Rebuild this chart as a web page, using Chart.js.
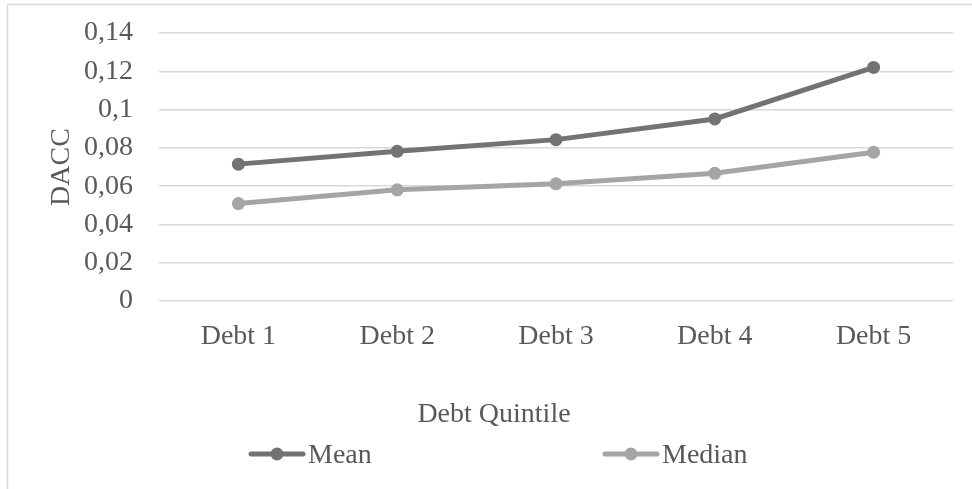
<!DOCTYPE html>
<html>
<head>
<meta charset="utf-8">
<script src="https://cdn.jsdelivr.net/npm/chart.js@4.4.1/dist/chart.umd.min.js"></script>
<style>
  html, body { margin: 0; padding: 0; background: #fff; }
  #wrap { width: 972px; height: 489px; position: relative; }
</style>
</head>
<body>
<div id="wrap"><canvas id="grafica"></canvas></div>
<script>
// datos
const categorias = ["Debt 1", "Debt 2", "Debt 3", "Debt 4", "Debt 5"];
const media = [0.0715, 0.0782, 0.0843, 0.0951, 0.1220];
const mediana = [0.0509, 0.0581, 0.0612, 0.0667, 0.0777];
const etiquetasY = ["0", "0,02", "0,04", "0,06", "0,08", "0,1", "0,12", "0,14"];
const tituloX = "Debt Quintile";
const tituloY = "DACC";

const fuente = "'Liberation Serif', 'Times New Roman', serif";
const gris = "#595959";

// borde, título del eje X y leyenda al estilo Excel
const extrasExcel = {
  id: "extrasExcel",
  afterDraw(chart) {
    const ctx = chart.ctx;
    ctx.save();
    ctx.strokeStyle = "#d9d9d9";
    ctx.lineWidth = 1.5;
    ctx.beginPath();
    ctx.moveTo(7.5, 489);
    ctx.lineTo(7.5, 4.5);
    ctx.lineTo(972, 4.5);
    ctx.stroke();

    ctx.fillStyle = gris;
    ctx.font = "28px " + fuente;
    ctx.textAlign = "center";
    ctx.textBaseline = "alphabetic";
    ctx.fillText(tituloX, 494, 422);

    const inicios = [249, 603];
    chart.data.datasets.forEach((ds, i) => {
      const x = inicios[i];
      const y = 454;
      ctx.strokeStyle = ds.borderColor;
      ctx.lineWidth = ds.borderWidth;
      ctx.lineCap = "round";
      ctx.beginPath();
      ctx.moveTo(x + 2, y);
      ctx.lineTo(x + 54, y);
      ctx.stroke();
      ctx.fillStyle = ds.borderColor;
      ctx.beginPath();
      ctx.arc(x + 28, y, ds.pointRadius, 0, Math.PI * 2);
      ctx.fill();
      ctx.fillStyle = gris;
      ctx.textAlign = "left";
      ctx.fillText(ds.label, x + 59, 463);
    });
    ctx.restore();
  }
};

new Chart(document.getElementById("grafica"), {
  type: "line",
  data: {
    labels: categorias,
    datasets: [
      {
        label: "Mean",
        data: media,
        borderColor: "#737373",
        backgroundColor: "#737373",
        borderWidth: 5,
        pointRadius: 6.5,
        pointBorderWidth: 0,
        tension: 0,
      },
      {
        label: "Median",
        data: mediana,
        borderColor: "#a5a5a5",
        backgroundColor: "#a5a5a5",
        borderWidth: 5,
        pointRadius: 6.5,
        pointBorderWidth: 0,
        tension: 0,
      },
    ],
  },
  options: {
    responsive: true,
    maintainAspectRatio: false,
    animation: false,
    layout: { padding: { left: 0, right: 19, top: 33, bottom: 0 } },
    plugins: {
      legend: { display: false },
      tooltip: { enabled: false },
    },
    scales: {
      x: {
        offset: true,
        grid: { display: false },
        border: { display: false },
        ticks: { color: gris, font: { family: fuente, size: 28 }, padding: 11 },
        afterFit: s => { s.height = 188; },
      },
      y: {
        min: 0,
        max: 0.14,
        border: { display: false },
        grid: { color: "#d9d9d9", lineWidth: 1.5, drawTicks: false },
        ticks: {
          stepSize: 0.02,
          color: gris,
          font: { family: fuente, size: 28 },
          padding: 26,
          callback: (v, i) => etiquetasY[i],
        },
        title: {
          display: true,
          text: tituloY,
          color: gris,
          font: { family: fuente, size: 28 },
          padding: { top: 45 },
        },
        afterFit: s => {
          s.width = 159;
          s.paddingTop = 0;
          s.paddingBottom = 0;
        },
      },
    },
  },
  plugins: [extrasExcel],
});
</script>
</body>
</html>
